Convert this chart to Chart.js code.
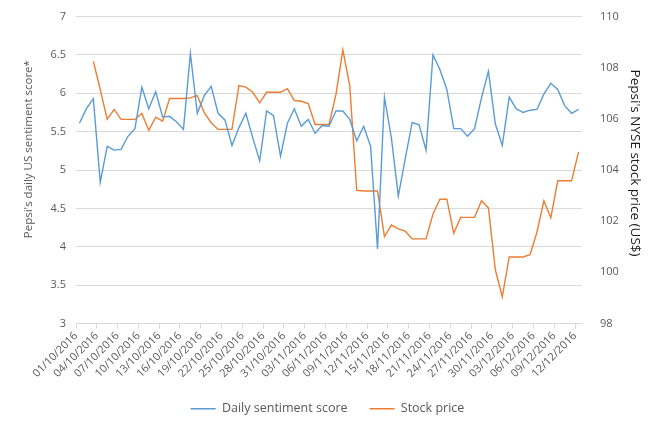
<!DOCTYPE html>
<html>
<head>
<meta charset="utf-8">
<script src="https://cdn.jsdelivr.net/npm/chart.js@4"></script>
<style>
  body { margin: 0; background: #fff; }
</style>
</head>
<body>
<canvas id="myChart" width="655" height="425"></canvas>
<script>
// tick labels, one every 3 days (01/10/2016 .. 12/12/2016)
var tickLabels = ["01/10/2016", "04/10/2016", "07/10/2016", "10/10/2016", "13/10/2016",
  "16/10/2016", "19/10/2016", "22/10/2016", "25/10/2016", "28/10/2016", "31/10/2016",
  "03/11/2016", "06/11/2016", "09/11/2016", "12/11/2016", "15/11/2016", "18/11/2016",
  "21/11/2016", "24/11/2016", "27/11/2016", "30/11/2016", "03/12/2016", "06/12/2016",
  "09/12/2016", "12/12/2016"];

// daily values, 01/10/2016 .. 12/12/2016
var sentiment = [5.61, 5.80, 5.93, 4.84, 5.31, 5.26, 5.27, 5.44, 5.54, 6.08,
  5.80, 6.02, 5.69, 5.70, 5.63, 5.53, 6.52, 5.74, 5.97, 6.09,
  5.74, 5.65, 5.32, 5.55, 5.74, 5.42, 5.12, 5.77, 5.71, 5.18,
  5.61, 5.80, 5.57, 5.66, 5.48, 5.58, 5.57, 5.77, 5.77, 5.66,
  5.38, 5.57, 5.31, 3.97, 5.95, 5.42, 4.66, 5.15, 5.62, 5.59,
  5.26, 6.50, 6.31, 6.05, 5.54, 5.54, 5.44, 5.54, 5.94, 6.29,
  5.60, 5.32, 5.95, 5.80, 5.75, 5.78, 5.79, 5.99, 6.13, 6.05,
  5.84, 5.74, 5.79];

var stockPrice = [null, null, 108.25, 107.15, 105.98, 106.37, 105.98, 105.98, 105.98, 106.21,
  105.55, 106.07, 105.91, 106.80, 106.80, 106.80, 106.82, 106.91, 106.24, 105.85,
  105.59, 105.59, 105.59, 107.30, 107.24, 107.04, 106.63, 107.04, 107.04, 107.04,
  107.18, 106.72, 106.69, 106.60, 105.78, 105.78, 105.78, 106.95, 108.70, 107.28,
  103.21, 103.18, 103.18, 103.18, 101.40, 101.85, 101.70, 101.61, 101.31, 101.31,
  101.31, 102.28, 102.86, 102.86, 101.53, 102.15, 102.15, 102.15, 102.80, 102.52,
  100.10, 99.04, 100.60, 100.60, 100.60, 100.69, 101.57, 102.80, 102.13, 103.58,
  103.58, 103.58, 104.71];

var textColor = "#595959";
var gridColor = "#d9d9d9";
var fontFamily = "'Open Sans', sans-serif";

// each day sits in the middle of its slot, like the spreadsheet date axis
function toPoints(values) {
  return values.map(function (v, i) {
    return { x: i + 0.5, y: v };
  });
}

new Chart("myChart", {
  type: "line",
  data: {
    datasets: [
      {
        label: "Daily sentiment score",
        data: toPoints(sentiment),
        borderColor: "#5b9bd5",
        backgroundColor: "#5b9bd5",
        borderWidth: 1.4,
        pointRadius: 0,
        tension: 0,
        yAxisID: "y",
      },
      {
        label: "Stock price",
        data: toPoints(stockPrice),
        borderColor: "#ed7d31",
        backgroundColor: "#ed7d31",
        borderWidth: 1.4,
        pointRadius: 0,
        tension: 0,
        spanGaps: false,
        yAxisID: "y1",
      },
    ],
  },
  options: {
    responsive: false,
    animation: false,
    layout: { padding: { top: 15, left: 0, right: 0, bottom: 0 } },
    plugins: {
      tooltip: { enabled: false },
      legend: {
        position: "bottom",
        labels: {
          usePointStyle: true,
          pointStyle: "line",
          pointStyleWidth: 25,
          padding: 22,
          color: textColor,
          font: { family: fontFamily, size: 12.5 },
        },
      },
    },
    scales: {
      x: {
        type: "linear",
        min: 0,
        max: 73,
        afterFit: function (s) { s.height = 57; },
        ticks: {
          stepSize: 3,
          includeBounds: false,
          autoSkip: false,
          minRotation: 45,
          maxRotation: 45,
          padding: 1,
          color: textColor,
          font: { family: fontFamily, size: 11 },
          callback: function (v) { return tickLabels[v / 3]; },
        },
        grid: { drawOnChartArea: false, drawTicks: true, tickLength: 5, color: gridColor },
        border: { color: gridColor },
      },
      y: {
        position: "left",
        min: 3,
        max: 7,
        afterFit: function (s) { s.width = 76; },
        ticks: {
          stepSize: 0.5,
          padding: 10,
          color: textColor,
          font: { family: fontFamily, size: 11 },
          callback: function (v) { return String(v); },
        },
        grid: { color: gridColor, drawTicks: false },
        border: { display: false },
        title: {
          display: true,
          // leading spaces lift the title a little, as in the original
          text: "              Pepsi's daily US sentiment score*",
          color: textColor,
          padding: { top: 22, bottom: 0 },
          font: { family: fontFamily, size: 11.5 },
        },
      },
      y1: {
        position: "right",
        min: 98,
        max: 110,
        afterFit: function (s) { s.width = 73; },
        ticks: {
          stepSize: 2,
          padding: 10,
          color: textColor,
          font: { family: fontFamily, size: 11 },
        },
        grid: { display: false },
        border: { display: false },
        title: {
          display: true,
          text: "Pepsi's NYSE stock price (US$)    ",
          color: "#1a1a1a",
          padding: { top: 12, bottom: 0 },
          font: { family: fontFamily, size: 13.5 },
        },
      },
    },
  },
});
</script>
</body>
</html>
